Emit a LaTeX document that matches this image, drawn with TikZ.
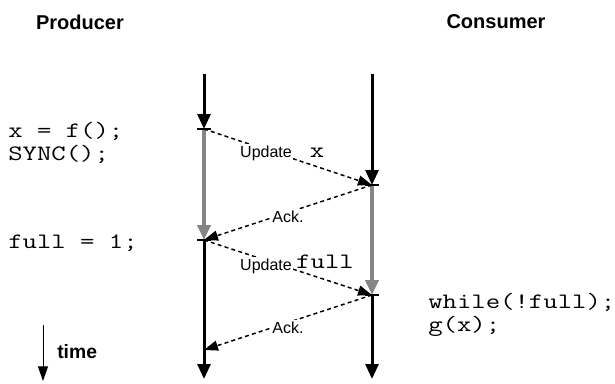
\documentclass[tikz,border=0pt]{standalone}
\usepackage{fontspec}
\usepackage{graphicx}
\setmainfont{Liberation Sans}
\usetikzlibrary{arrows.meta}
% wide typewriter text, Courier-like proportions
\newcommand{\widecode}[1]{\scalebox{1.27}[1]{#1}}
\begin{document}
\begin{tikzpicture}[x=0.75pt,y=-0.75pt,
  timeline/.style={line width=2.25pt, -{Triangle[width=9.75pt,length=11.25pt]}},
  blocked/.style={line width=3pt, draw=black!48, -{Triangle[width=9.75pt,length=11.25pt,fill=black!48]}},
  msg/.style={line width=1.1pt, dash pattern=on 3pt off 2.4pt, -{Triangle[width=7.5pt,length=10.5pt]}},
  evtick/.style={line width=1.1pt},
  title/.style={font=\bfseries\fontsize{15}{17}\selectfont, inner sep=0pt},
  codeline/.style={font=\ttfamily\fontsize{16.5}{17}\selectfont, anchor=base west, inner sep=0pt,
                   text height=11pt, text depth=3pt},
  lbl/.style={font=\fontsize{12}{14}\selectfont, fill=white, inner sep=1pt, anchor=base},
  codelbl/.style={font=\ttfamily\fontsize{16.5}{17}\selectfont, fill=white, inner sep=0.5pt, anchor=base},
]
\useasboundingbox (0,0) rectangle (615,383);

% event points on the two time lines
\coordinate (p0) at (204,74);
\coordinate (p1) at (204,129);
\coordinate (p2) at (204,240);
\coordinate (p3) at (204,350);
\coordinate (pend) at (204,379);
\coordinate (c0) at (372,74);
\coordinate (c1) at (372,185);
\coordinate (c2) at (372,295);
\coordinate (cend) at (372,379);

% headings
\node[title] (prod) at (80,22) {Producer};
\node[title] (cons) at (496,22) {Consumer};

% producer time line
\draw[timeline] (p0) -- (p1);
\draw[blocked] (p1) -- (p2);
\draw[timeline] (p2) -- (pend);

% consumer time line
\draw[timeline] (c0) -- (c1);
\draw[blocked] (c1) -- (c2);
\draw[timeline] (c2) -- (cend);

% event ticks
\foreach \e in {p1,p2,c1,c2}
  \draw[evtick] ([xshift=-5pt]\e) -- ([xshift=5pt]\e);

% messages
\draw[msg] (p1) -- (c1);
\draw[msg] (c1) -- (p2);
\draw[msg] (p2) -- (c2);
\draw[msg] (c2) -- (p3);

% message labels
\node[lbl] (u1) at (266,157) {Update};
\node[codelbl] (u1v) at (317,157) {\widecode{x}};
\node[lbl] (a1) at (288,222) {Ack.};
\node[lbl] (u2) at (266,270) {Update};
\node[codelbl] (u2v) at (325,268) {\widecode{full}};
\node[lbl] (a2) at (288,333) {Ack.};

% program code
\node[codeline] (pl1) at (8,137) {\widecode{x = f();}};
\node[codeline] (pl2) at (8,160) {\widecode{SYNC();}};
\node[codeline] (pl3) at (8,248) {\widecode{full = 1;}};
\node[codeline] (cl1) at (428,308) {\widecode{while(!full);}};
\node[codeline] (cl2) at (428,331) {\widecode{g(x);}};

% time direction
\coordinate (t0) at (43,325);
\coordinate (t1) at (43,381);
\draw[line width=0.75pt, -{Triangle[width=7.5pt,length=11pt]}] (t0) -- (t1);
\node[font=\bfseries\fontsize{14.5}{16}\selectfont, anchor=base west, inner sep=0pt] (tlbl) at (57,358) {time};
\end{tikzpicture}
\end{document}
